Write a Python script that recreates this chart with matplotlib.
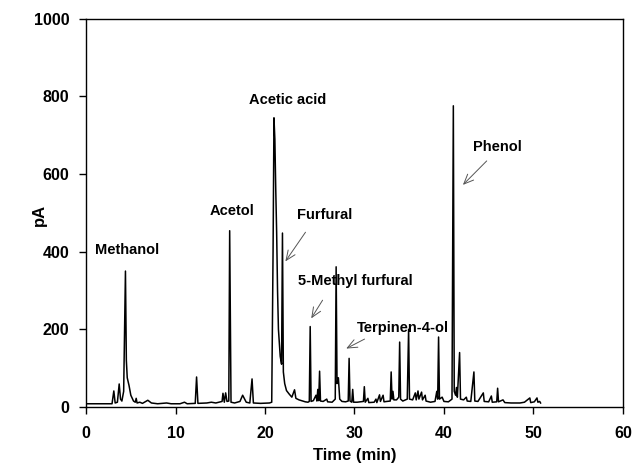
import matplotlib
matplotlib.use("Agg")
import matplotlib.pyplot as plt

plt.rcParams['font.family'] = ['Liberation Sans', 'DejaVu Sans']
plt.rcParams['font.weight'] = 'bold'

# Chromatogram trace (retention time in min, signal in pA)
time_min = [
    0.1, 2.9, 3.1, 3.25, 3.5, 3.7, 3.85, 4.0, 4.2, 4.4, 4.5, 4.6, 4.8, 5.0, 5.3, 5.5, 5.6, 5.7,
    6.0, 6.3, 6.9, 7.3, 8.0, 9.0, 9.5, 10.5, 11.0, 11.3, 12.2, 12.35, 12.5, 13.5, 14.0, 14.5,
    15.2, 15.3, 15.45, 15.6, 15.75, 15.95, 16.05, 16.2, 16.6, 17.2, 17.5, 17.9, 18.3, 18.55,
    18.7, 19.5, 20.5, 20.75, 20.9, 21.0, 21.1, 21.2, 21.3, 21.4, 21.5, 21.7, 21.85, 21.95,
    22.05, 22.2, 22.4, 22.7, 23.0, 23.3, 23.45, 23.8, 24.2, 24.5, 24.8, 24.95, 25.05, 25.15,
    25.4, 25.7, 25.8, 25.9, 26.0, 26.1, 26.2, 26.5, 26.9, 27.0, 27.5, 27.85, 27.95, 28.05,
    28.2, 28.35, 28.6, 29.0, 29.3, 29.4, 29.5, 29.7, 29.8, 29.9, 30.3, 31.0, 31.1, 31.2,
    31.5, 31.6, 32.2, 32.4, 32.5, 32.8, 32.9, 33.2, 33.3, 33.6, 34.0, 34.1, 34.2, 34.3, 34.4,
    34.7, 34.95, 35.05, 35.15, 35.4, 35.9, 36.05, 36.15, 36.5, 36.8, 36.9, 37.1, 37.2, 37.5,
    37.6, 37.9, 38.0, 38.5, 39.0, 39.2, 39.3, 39.4, 39.5, 39.8, 40.0, 40.5, 40.9, 41.05,
    41.15, 41.3, 41.4, 41.5, 41.75, 41.85, 42.2, 42.5, 42.6, 43.0, 43.35, 43.45, 43.8, 44.4,
    44.5, 45.0, 45.3, 45.4, 45.9, 46.0, 46.1, 46.6, 46.8, 47.5, 48.5, 49.0, 49.6, 49.7,
    50.1, 50.4, 50.5, 50.7, 50.8,
]
signal_pA = [
    8, 8, 41, 10, 12, 59, 20, 15, 40, 350, 120, 75, 55, 30, 15, 12, 22, 10,
    12, 9, 17, 10, 8, 10, 8, 8, 12, 8, 9, 77, 9, 10, 12, 10,
    14, 35, 12, 36, 14, 15, 454, 12, 10, 14, 30, 12, 10, 72,
    10, 9, 10, 12, 400, 745, 690, 560, 450, 300, 200, 130, 110, 448,
    90, 60, 42, 33, 25, 44, 22, 18, 15, 13, 12, 14, 207, 14,
    16, 30, 15, 45, 16, 92, 15, 14, 20, 13, 12, 20, 361, 60,
    75, 20, 14, 13, 15, 125, 15, 12, 45, 12, 12, 14, 52, 12,
    22, 11, 12, 20, 11, 31, 14, 30, 13, 14, 15, 90, 20, 40, 18,
    18, 25, 167, 20, 15, 20, 200, 20, 18, 36, 18, 41, 20, 38,
    18, 30, 15, 12, 14, 40, 20, 180, 20, 25, 14, 13, 20, 776,
    40, 30, 50, 25, 140, 20, 18, 25, 15, 14, 90, 15, 14, 36,
    14, 13, 28, 12, 13, 48, 13, 18, 11, 10, 10, 12, 23, 11,
    13, 23, 12, 14, 10,
]

# Peak labels: text, text position (t, pA), arrow tip (t, pA) or None
labels = ["Methanol", "Acetol", "Acetic acid", "Furfural", "5-Methyl furfural", "Terpinen-4-ol", "Phenol"]
label_t = [4.6, 16.3, 22.5, 26.7, 30.1, 35.4, 46.0]
label_v = [405, 505, 790, 495, 324, 204, 670]
arrow_from_t = [None, None, None, 24.7, 26.6, 31.4, 45.0]
arrow_from_v = [None, None, None, 456, 281, 178, 639]
arrow_to_t = [None, None, None, 22.1, 25.0, 28.8, 41.9]
arrow_to_v = [None, None, None, 369, 222, 147, 567]

fig = plt.figure(figsize=(6.33, 4.72), dpi=100)
ax = fig.add_axes([0.136, 0.138, 0.848, 0.822])

ax.plot(time_min, signal_pA, color='black', lw=1.1)

for i, lab in enumerate(labels):
    ax.text(label_t[i], label_v[i], lab, ha='center', va='center', fontsize=10.5, fontweight='bold')
    if arrow_from_t[i] is not None:
        ax.annotate('', xy=(arrow_to_t[i], arrow_to_v[i]), xytext=(arrow_from_t[i], arrow_from_v[i]),
                    arrowprops=dict(arrowstyle='->,head_length=0.7,head_width=0.3', color='#555555', lw=0.7))

ax.set_xlim(0, 60)
ax.set_ylim(0, 1000)
ax.set_xticks([0, 10, 20, 30, 40, 50, 60])
ax.set_yticks([0, 200, 400, 600, 800, 1000])
ax.tick_params(axis='x', direction='out', length=5, width=1, pad=9, labelsize=11.5)
ax.tick_params(axis='y', direction='out', length=5, width=1, pad=7, labelsize=11.5)
for lbl in ax.get_xticklabels() + ax.get_yticklabels():
    lbl.set_fontweight('bold')
for sp in ax.spines.values():
    sp.set_linewidth(1.0)

ax.set_xlabel('Time (min)', fontsize=12, fontweight='bold', labelpad=5)
ax.set_ylabel('pA', fontsize=12, fontweight='bold')
ax.yaxis.set_label_coords(-0.073, 0.495)

fig.savefig('out.png', dpi=100)
